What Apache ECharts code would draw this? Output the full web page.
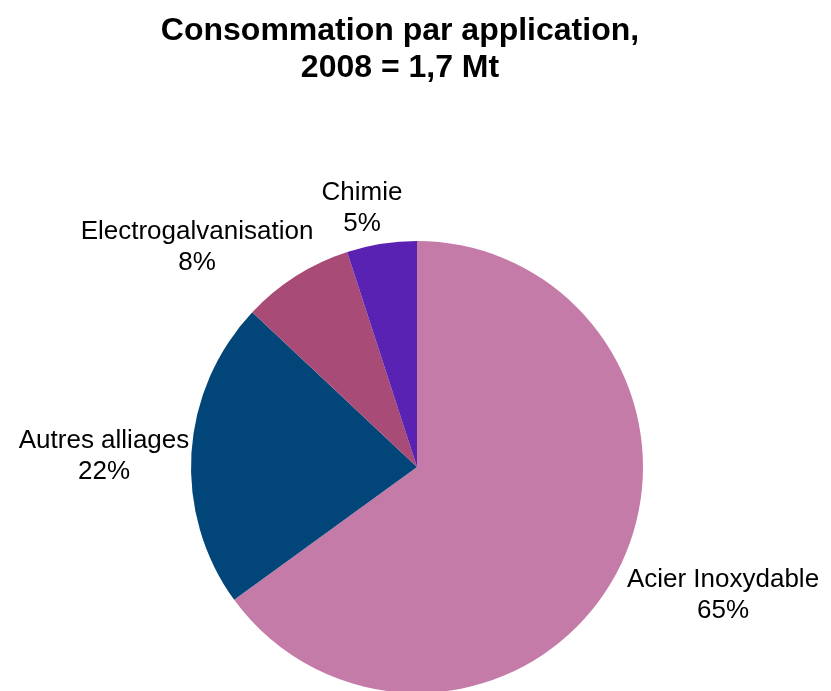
<!DOCTYPE html>
<html>
<head>
<meta charset="utf-8">
<script src="https://cdn.jsdelivr.net/npm/echarts@6/dist/echarts.min.js"></script>
<style>
  html, body { margin: 0; padding: 0; background: #ffffff; }
  #chart { width: 831px; height: 691px; }
</style>
</head>
<body>
<div id="chart"></div>
<script>
// Nickel consumption by end use, 2008
const categories = ['Acier Inoxydable', 'Autres alliages', 'Electrogalvanisation', 'Chimie'];
const shares = [65, 22, 8, 5];
const sliceColors = ['#C47BA8', '#024578', '#A94B77', '#5A22B2'];

// Where each slice caption sits (px, centre of the text block)
const captionSpots = [[723, 595], [104, 456], [197, 247], [362, 208]];

const chart = echarts.init(document.getElementById('chart'), null, { renderer: 'canvas' });

chart.setOption({
  backgroundColor: '#ffffff',
  animation: false,
  title: {
    text: 'Consommation par application,\n2008 = 1,7 Mt',
    left: 395,
    top: 8,
    textAlign: 'center',
    textStyle: {
      fontFamily: 'Liberation Sans, Arial, sans-serif',
      fontSize: 32,
      fontWeight: 'bold',
      color: '#000000',
      lineHeight: 37
    }
  },
  series: [{
    type: 'pie',
    center: [417, 467],
    radius: 226,
    startAngle: 90,
    clockwise: true,
    silent: true,
    itemStyle: { borderWidth: 0 },
    label: {
      show: true,
      position: 'outside',
      formatter: p => p.name + '\n' + p.value + '%',
      fontFamily: 'Liberation Sans, Arial, sans-serif',
      fontSize: 26,
      lineHeight: 31,
      color: '#000000',
      align: 'center',
      overflow: 'none'
    },
    labelLine: { show: false },
    labelLayout: p => ({
      x: captionSpots[p.dataIndex][0],
      y: captionSpots[p.dataIndex][1],
      align: 'center',
      verticalAlign: 'middle',
      width: 300
    }),
    data: categories.map((name, i) => ({
      name: name,
      value: shares[i],
      itemStyle: { color: sliceColors[i] }
    }))
  }]
});
</script>
</body>
</html>
